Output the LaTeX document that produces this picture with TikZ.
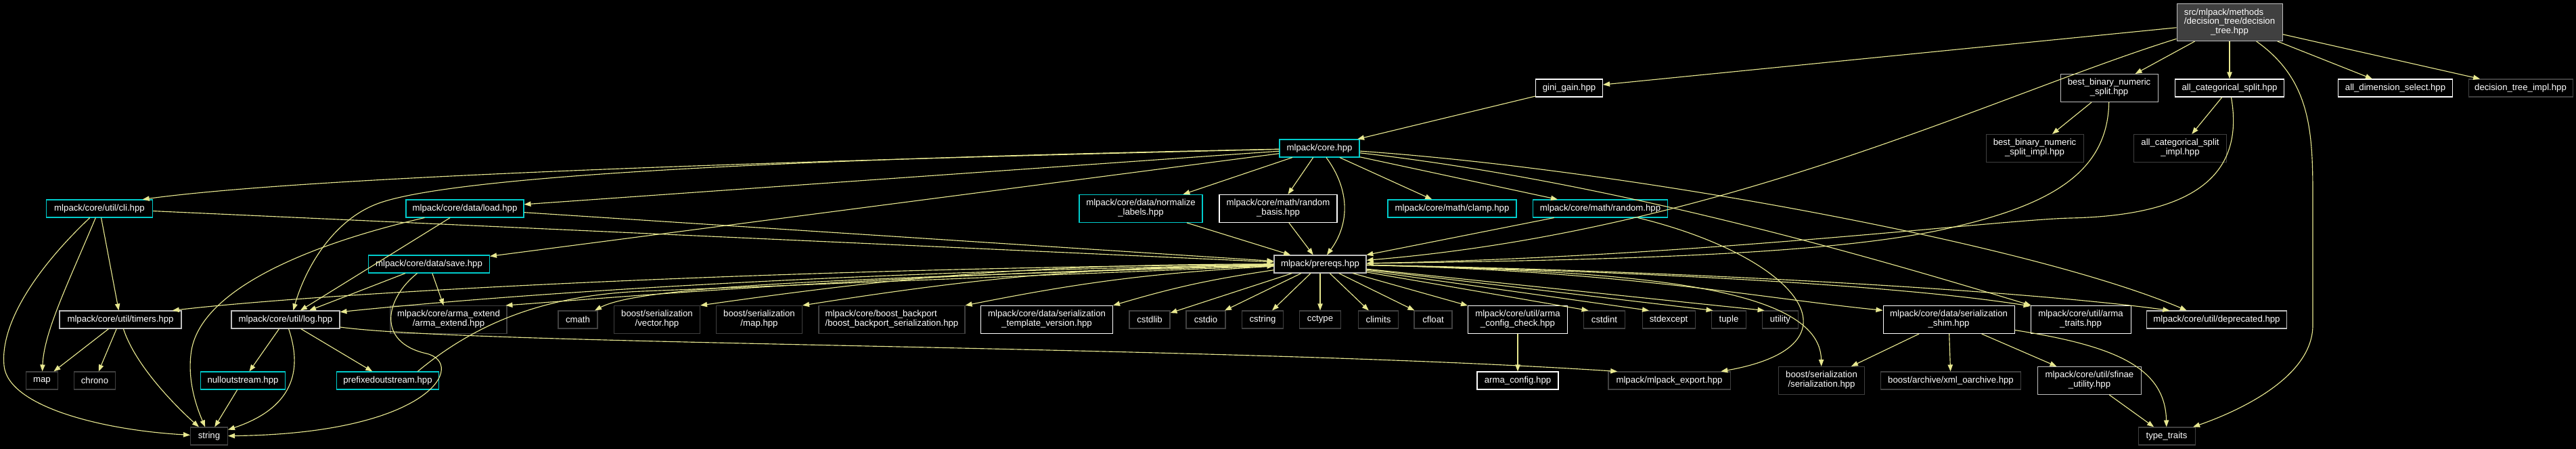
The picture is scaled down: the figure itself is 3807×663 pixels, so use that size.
\documentclass[tikz,border=0pt]{standalone}
\usepackage{fontspec}
\setmainfont{Liberation Sans}
\usetikzlibrary{arrows.meta}
\definecolor{edgec}{RGB}{232,232,144}
\definecolor{cyanb}{RGB}{0,204,204}
\definecolor{lgray}{RGB}{191,191,191}
\definecolor{dgray}{RGB}{64,64,64}
\newcommand\twol[2]{\begin{tabular}{@{}l@{}}#1\\\multicolumn{1}{@{}c@{}}{#2}\end{tabular}}
\tikzset{
  nd/.style={draw, fill=black, text=white, line width=0.8pt, inner sep=0pt,
    font=\fontsize{9.9}{10.3}\selectfont, minimum height=19.5pt},
  mw/.style={minimum width=#1*0.75pt},
  htwo/.style={minimum height=30.75pt},
  cy/.style={nd, draw=cyanb},
  wh/.style={nd, draw=white},
  lg/.style={nd, draw=lgray},
  dk/.style={nd, draw=dgray},
  ed/.style={draw=edgec, line width=0.85pt, -{Triangle[length=7.5pt,width=5.5pt]}},
}
\begin{document}
\begin{tikzpicture}[x=0.75pt,y=-0.75pt]
\fill[black] (0,0) rectangle (3807,663);
\useasboundingbox (0,0) rectangle (3807,663);

% nodes
\node[lg, fill=dgray, mw=156, minimum height=41.25pt] (root) at (3295,33)
  {\begin{tabular}{@{}l@{}}src/mlpack/methods\\/decision\_tree/decision\\\multicolumn{1}{@{}c@{}}{\_tree.hpp}\end{tabular}};
\node[wh, mw=99] (gini) at (2319,130) {gini\_gain.hpp};
\node[lg, mw=144, htwo] (bbns) at (3117,130) {\twol{best\_binary\_numeric}{\_split.hpp}};
\node[wh, mw=161] (acs) at (3295,130) {all\_categorical\_split.hpp};
\node[wh, mw=169] (ads) at (3540,130) {all\_dimension\_select.hpp};
\node[dk, mw=154] (dti) at (3725,130) {decision\_tree\_impl.hpp};
\node[cy, mw=118] (core) at (1950,219) {mlpack/core.hpp};
\node[dk, mw=144, htwo] (bbnsi) at (3007,219) {\twol{best\_binary\_numeric}{\_split\_impl.hpp}};
\node[dk, mw=137, htwo] (acsi) at (3222,219) {\twol{all\_categorical\_split}{\_impl.hpp}};
\node[cy, mw=157] (cli) at (147,308) {mlpack/core/util/cli.hpp};
\node[cy, mw=174] (load) at (687,308) {mlpack/core/data/load.hpp};
\node[cy, mw=182, htwo] (normalize) at (1686,308) {\twol{mlpack/core/data/normalize}{\_labels.hpp}};
\node[wh, mw=174, htwo] (rbasis) at (1889,308) {\twol{mlpack/core/math/random}{\_basis.hpp}};
\node[cy, mw=190] (clamp) at (2146,308) {mlpack/core/math/clamp.hpp};
\node[cy, mw=199] (random) at (2365,308) {mlpack/core/math/random.hpp};
\node[cy, mw=179] (save) at (634,390) {mlpack/core/data/save.hpp};
\node[lg, mw=136] (prereqs) at (1951,390) {mlpack/prereqs.hpp};
\node[lg, mw=180] (timers) at (178,472) {mlpack/core/util/timers.hpp};
\node[lg, mw=160] (log) at (422,472) {mlpack/core/util/log.hpp};
\node[dk, mw=172, htwo] (armaext) at (663,472) {\twol{mlpack/core/arma\_extend}{/arma\_extend.hpp}};
\node[dk, mw=58] (cmath) at (854,472) {cmath};
\node[dk, mw=127, htwo] (vector) at (971,472) {\twol{boost/serialization}{/vector.hpp}};
\node[dk, mw=127, htwo] (bmap) at (1122,472) {\twol{boost/serialization}{/map.hpp}};
\node[dk, mw=216, htwo] (backport) at (1318,472) {\twol{mlpack/core/boost\_backport}{/boost\_backport\_serialization.hpp}};
\node[wh, mw=195, htwo] (tmplver) at (1547,472) {\twol{mlpack/core/data/serialization}{\_template\_version.hpp}};
\node[dk, mw=60] (cstdlib) at (1699,472) {cstdlib};
\node[dk, mw=58] (cstdio) at (1782,472) {cstdio};
\node[dk, mw=61] (cstring) at (1866,472) {cstring};
\node[dk, mw=61] (cctype) at (1951,472) {cctype};
\node[dk, mw=59] (climits) at (2037,472) {climits};
\node[dk, mw=56] (cfloat) at (2118,472) {cfloat};
\node[wh, mw=147, htwo] (acc) at (2243,472) {\twol{mlpack/core/util/arma}{\_config\_check.hpp}};
\node[dk, mw=61] (cstdint) at (2371,472) {cstdint};
\node[dk, mw=78] (stdexcept) at (2466,472) {stdexcept};
\node[dk, mw=51] (tuple) at (2555,472) {tuple};
\node[dk, mw=53] (utility) at (2631,472) {utility};
\node[wh, mw=194, htwo] (shim) at (2880,472) {\twol{mlpack/core/data/serialization}{\_shim.hpp}};
\node[wh, mw=148, htwo] (atraits) at (3075,472) {\twol{mlpack/core/util/arma}{\_traits.hpp}};
\node[lg, mw=207] (deprecated) at (3276,472) {mlpack/core/util/deprecated.hpp};
\node[dk, mw=47] (map) at (62,562) {map};
\node[dk, mw=61] (chrono) at (140,562) {chrono};
\node[cy, mw=125] (nullout) at (359,562) {nulloutstream.hpp};
\node[cy, mw=151] (prefixed) at (573,562) {prefixedoutstream.hpp};
\node[wh, mw=120] (aconfig) at (2243,562) {arma\_config.hpp};
\node[dk, mw=180] (export) at (2467,562) {mlpack/mlpack\_export.hpp};
\node[dk, mw=127, htwo] (bser) at (2692,562) {\twol{boost/serialization}{/serialization.hpp}};
\node[dk, mw=207] (xml) at (2883,562) {boost/archive/xml\_oarchive.hpp};
\node[lg, mw=153, htwo] (sfinae) at (3088,562) {\twol{mlpack/core/util/sfinae}{\_utility.hpp}};
\node[dk, mw=55] (string) at (309,644) {string};
\node[dk, mw=84] (ttraits) at (3202,644) {type\_traits};

% edges
\begin{scope}[every path/.style={ed}]
\draw (root) -- (gini);
\draw (root) -- (bbns);
\draw (root) -- (acs);
\draw (root) -- (ads);
\draw (root) -- (dti);
\draw (root) .. controls (2950,140) and (2550,340) .. (prereqs);
\draw (root) .. controls (3418,120) and (3418,200) .. (3418,300) -- (3418,480) .. controls (3418,560) and (3300,610) .. (ttraits);
\draw (gini) -- (core);
\draw (bbns) -- (bbnsi);
\draw (bbns) .. controls (3115,260) and (3020,305) .. (2880,337) .. controls (2700,378) and (2350,384) .. (prereqs);
\draw (acs) -- (acsi);
\draw (acs) .. controls (3318,260) and (3240,318) .. (3060,322) .. controls (2960,324) and (2500,380) .. (prereqs);

\draw (core) .. controls (1400,232) and (500,255) .. (cli.12);
\draw (core) -- (load);
\draw (core) -- (save);
\draw (core) -- (normalize);
\draw (core) -- (rbasis);
\draw (core) .. controls (1995,280) and (1995,330) .. (prereqs);
\draw (core) -- (clamp);
\draw (core) -- (random);
\draw (core) .. controls (1400,230) and (700,250) .. (560,300) .. controls (490,325) and (450,400) .. (log.50);
\draw (core) .. controls (2400,250) and (3000,360) .. (deprecated.163);
\draw (core) .. controls (2400,270) and (2800,390) .. (atraits.164);

\draw (cli) .. controls (50,400) and (0,480) .. (6,540) .. controls (12,600) and (150,635) .. (string);
\draw (cli) .. controls (100,420) and (65,490) .. (map);
\draw (cli) -- (timers);
\draw (cli) -- (prereqs);

\draw (load) .. controls (480,355) and (300,420) .. (283,517) .. controls (276,560) and (290,600) .. (string);
\draw (load) -- (log);
\draw (load) -- (prereqs);

\draw (normalize) -- (prereqs);
\draw (rbasis) -- (prereqs);
\draw (random) -- (prereqs);
\draw (random) .. controls (2660,380) and (2760,510) .. (export);

\draw (save) -- (log);
\draw (save) -- (armaext);
\draw (save) .. controls (570,440) and (555,505) .. (630,522) .. controls (690,536) and (640,640) .. (string);

\draw (prereqs) .. controls (1200,395) and (500,430) .. (timers.10);
\draw (prereqs) .. controls (1300,400) and (800,430) .. (log.8);
\draw (prereqs) .. controls (1300,405) and (900,440) .. (armaext.14);
\draw (prereqs) .. controls (1300,410) and (950,420) .. (cmath);
\draw (prereqs) to[bend right=4] (vector.north east);
\draw (prereqs) to[bend right=4] (bmap.north east);
\draw (prereqs) to[bend right=4] (backport.north east);
\draw (prereqs) to[bend right=4] (tmplver.north east);
\draw (prereqs) -- (cstdlib);
\draw (prereqs) -- (cstdio);
\draw (prereqs) -- (cstring);
\draw (prereqs) -- (cctype);
\draw (prereqs) -- (climits);
\draw (prereqs) -- (cfloat);
\draw (prereqs) -- (acc);
\draw (prereqs) -- (cstdint.150);
\draw (prereqs) -- (stdexcept.155);
\draw (prereqs) -- (tuple.150);
\draw (prereqs) -- (utility.150);
\draw (prereqs) .. controls (2400,400) and (2600,440) .. (shim.172);
\draw (prereqs) .. controls (2400,400) and (2800,420) .. (atraits.165);
\draw (prereqs) .. controls (2500,400) and (3000,430) .. (deprecated.169);
\draw (prereqs) .. controls (2400,400) and (2690,420) .. (bser);

\draw (acc) -- (aconfig);
\draw (timers) -- (map);
\draw (timers) -- (chrono);
\draw (timers) .. controls (200,540) and (260,600) .. (string);
\draw (log) -- (nullout);
\draw (log) -- (prefixed);
\draw (log) .. controls (445,540) and (440,600) .. (string);
\draw (log) .. controls (700,510) and (1800,510) .. (export.170);
\draw (nullout) -- (string);
\draw (prefixed.17) .. controls (700,480) and (800,436) .. (950,430) -- (prereqs);
\draw (shim) -- (bser);
\draw (shim) -- (xml);
\draw (shim) -- (sfinae);
\draw (shim) .. controls (3120,510) and (3200,540) .. (ttraits);
\draw (sfinae) -- (ttraits);
\end{scope}
\end{tikzpicture}
\end{document}
